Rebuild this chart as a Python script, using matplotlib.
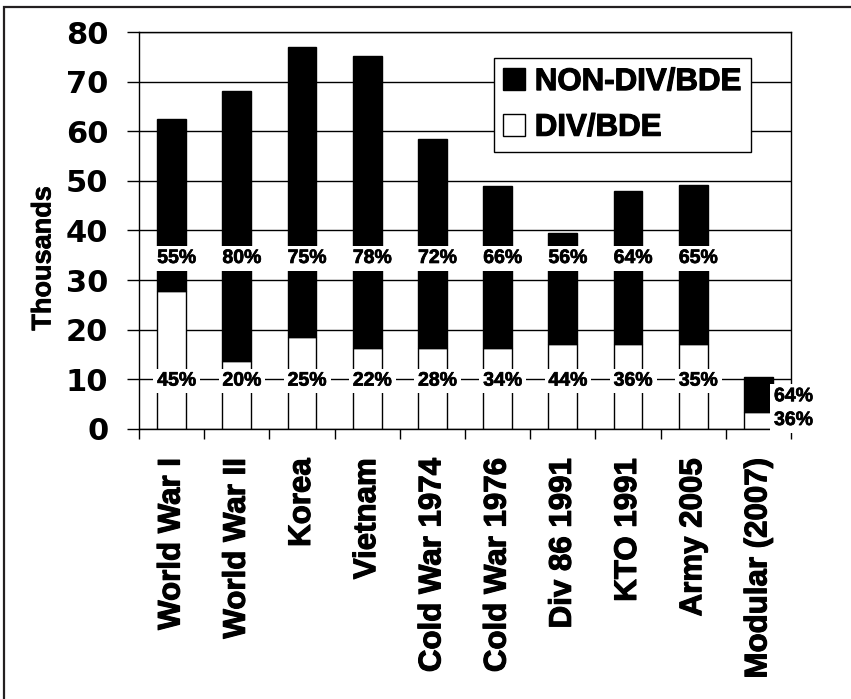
import numpy as np
import matplotlib
matplotlib.use('Agg')
import matplotlib.pyplot as plt
import matplotlib.patheffects as pe
from matplotlib.patches import Rectangle

plt.rcParams['font.family'] = ['Liberation Sans', 'DejaVu Sans']
plt.rcParams['font.weight'] = 'bold'

categories = ['World War I', 'World War II', 'Korea', 'Vietnam', 'Cold War 1974',
              'Cold War 1976', 'Div 86 1991', 'KTO 1991', 'Army 2005', 'Modular (2007)']
div_bde = [27.8, 13.6, 18.6, 16.3, 16.3, 16.3, 17.1, 17.1, 17.1, 3.5]
non_div_bde = [34.6, 54.6, 58.4, 58.8, 42.1, 32.7, 22.3, 30.9, 32.1, 7.0]
non_div_pct = ['55%', '80%', '75%', '78%', '72%', '66%', '56%', '64%', '65%', '64%']
div_pct = ['45%', '20%', '25%', '22%', '28%', '34%', '44%', '36%', '35%', '36%']

x = np.arange(len(categories))
w = 0.44
heavy = [pe.withStroke(linewidth=0.8, foreground='black')]
heavy_s = [pe.withStroke(linewidth=0.5, foreground='black')]

fig = plt.figure(figsize=(8.51, 6.99), dpi=100)
ax = fig.add_axes([0.1633, 0.3863, 0.7662, 0.5679])

ax.set_axisbelow(True)
ax.yaxis.grid(True, color='black', linewidth=1.0)
b_div = ax.bar(x, div_bde, w, color='white', edgecolor='black', linewidth=1.0, zorder=2)
b_non = ax.bar(x, non_div_bde, w, bottom=div_bde, color='black', edgecolor='black',
               linewidth=1.0, zorder=2)

lab_kw = dict(fontsize=14, fontweight='bold', va='center', zorder=6, clip_on=False,
              path_effects=heavy_s,
              bbox=dict(boxstyle='square,pad=0.2', facecolor='white', edgecolor='none'))
for i in range(len(categories) - 1):
    ax.text(x[i] - w / 2, 34.36, non_div_pct[i], ha='left', **lab_kw)
    ax.text(x[i] - w / 2, 9.65, div_pct[i], ha='left', **lab_kw)
last = len(categories) - 1
ax.text(x[last] + w / 2 + 0.02, 6.5, non_div_pct[last], ha='left', **lab_kw)
ax.text(x[last] + w / 2 + 0.02, 1.7, div_pct[last], ha='left', **lab_kw)

ax.set_xlim(-0.5, len(categories) - 0.5)
ax.set_ylim(0, 80)
ax.set_yticks(np.arange(0, 81, 10))
ax.tick_params(axis='y', length=8.6, width=1.0, pad=13.5)
ax.set_xticks(x)
ax.set_xticklabels(categories, rotation=90, fontsize=22.5, fontweight='bold')
ax.set_xticks(np.arange(-0.5, len(categories), 1), minor=True)
ax.tick_params(axis='x', which='major', length=0, pad=21)
ax.tick_params(axis='x', which='minor', length=7.5, width=1.0, direction='out')
for lbl in ax.get_yticklabels():
    lbl.set_fontfamily('DejaVu Sans')
    lbl.set_fontsize(22)
    lbl.set_fontweight('bold')
for lbl in ax.get_xticklabels():
    lbl.set_path_effects(heavy)
for s in ax.spines.values():
    s.set_linewidth(1.0)
    s.set_color('black')

fig.text(43.5 / 851, 1 - 258.5 / 699, 'Thousands', rotation=90, ha='center', va='center',
         fontsize=19.5, fontweight='bold', path_effects=heavy_s)

leg = ax.legend([b_non, b_div], ['NON-DIV/BDE', 'DIV/BDE'], loc='upper right',
                bbox_to_anchor=(0.9387, 0.9353), borderaxespad=0,
                prop={'weight': 'bold', 'size': 22.5}, fancybox=False, framealpha=1,
                edgecolor='black', handlelength=0.72, handleheight=0.7,
                handletextpad=0.3, borderpad=0.3, labelspacing=0.5)
leg.get_frame().set_linewidth(1.0)
leg.set_zorder(7)
for t in leg.get_texts():
    t.set_path_effects(heavy)

fig.add_artist(Rectangle((4 / 851, -0.05), 1.2, 1.05 - 7 / 699, transform=fig.transFigure,
                         fill=False, edgecolor='#231f20', linewidth=1.6))

fig.savefig('out.png', dpi=100)
